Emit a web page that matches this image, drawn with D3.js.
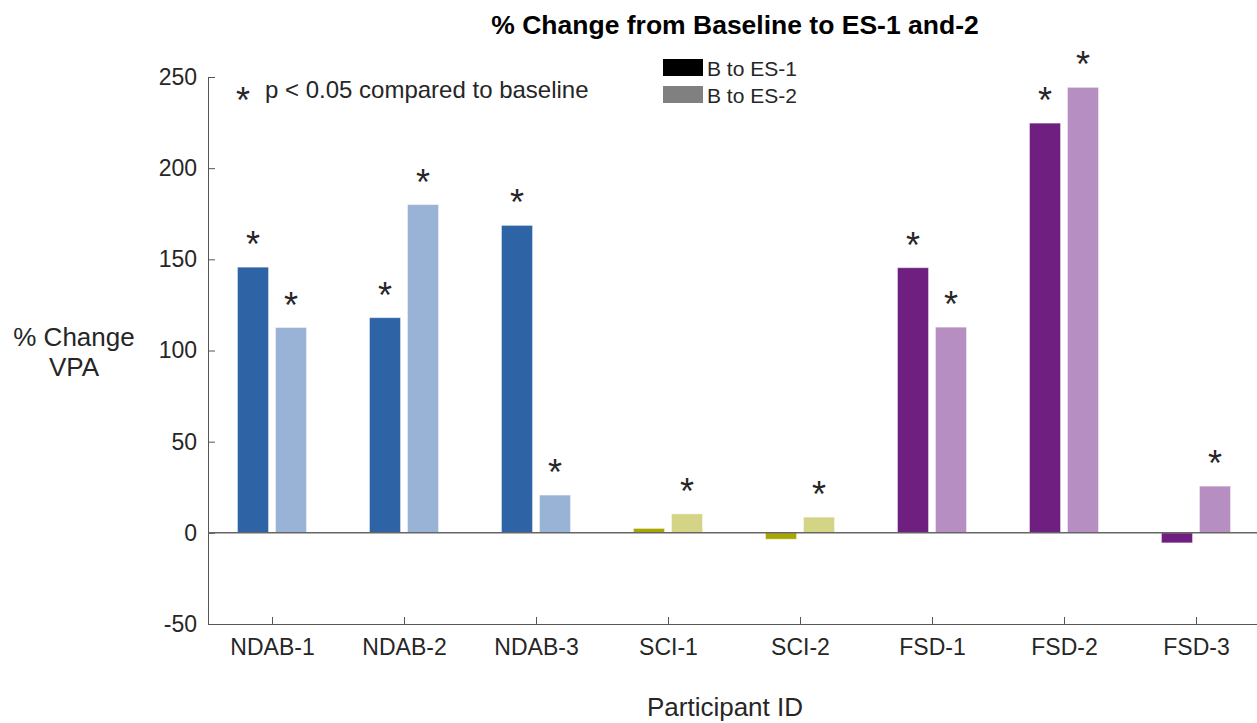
<!DOCTYPE html>
<html>
<head>
<meta charset="utf-8">
<script src="https://cdn.jsdelivr.net/npm/d3@7"></script>
<style>
  body { margin: 0; background: #fff; }
  svg text { font-family: "Liberation Sans", Arial, Helvetica, sans-serif; fill: #262626; }
</style>
</head>
<body>
<div id="chart"></div>
<script>
// Données
const participants = ["NDAB-1", "NDAB-2", "NDAB-3", "SCI-1", "SCI-2", "FSD-1", "FSD-2", "FSD-3"];
const es1 = [145.7, 118, 168.6, 2.4, -3.5, 145.4, 224.7, -5.5];
const es2 = [112.6, 180, 20.7, 10.4, 8.6, 112.8, 244.3, 25.6];
const sig1 = [true, true, true, false, false, true, true, false];
const sig2 = [true, true, true, true, true, true, true, true];
const darkColors = ["#2e63a5", "#2e63a5", "#2e63a5", "#a8a600", "#a8a600", "#6f1f80", "#6f1f80", "#6f1f80"];
const lightColors = ["#98b3d5", "#98b3d5", "#98b3d5", "#d4d486", "#d4d486", "#b78ec1", "#b78ec1", "#b78ec1"];
const yTicks = [-50, 0, 50, 100, 150, 200, 250];
const legendLabels = ["B to ES-1", "B to ES-2"];

(function() {
    const W = 1257, H = 723;
    const left = 208, bottom = 624, top = 77;

    const svg = d3.select("#chart").append("svg")
        .attr("width", W)
        .attr("height", H);

    // Échelles
    const x = d3.scaleLinear()
        .domain([0.5, participants.length + 0.5])
        .range([left - 2, left - 2 + 132 * participants.length]);

    const y = d3.scaleLinear()
        .domain([-50, 250])
        .range([bottom, top]);

    const barW = 31, off = 19;

    // Axe Y
    const yAxis = svg.append("g")
        .attr("transform", `translate(${left},0)`)
        .call(d3.axisRight(y).tickValues(yTicks).tickSize(7).tickFormat(d => String(d)));
    yAxis.select(".domain").attr("d", `M0.5,${bottom}V${top}`).attr("stroke", "#555");
    yAxis.selectAll(".tick line").attr("stroke", "#555");
    yAxis.selectAll(".tick text")
        .attr("x", -11)
        .attr("text-anchor", "end")
        .style("font-size", "23px");

    // Axe X
    const xAxis = svg.append("g")
        .attr("transform", `translate(0,${bottom})`)
        .call(d3.axisTop(x).tickValues(d3.range(1, participants.length + 1)).tickSize(7)
            .tickFormat(i => participants[i - 1]));
    xAxis.select(".domain").attr("d", `M${left},0.5H${W}`).attr("stroke", "#555");
    xAxis.selectAll(".tick line").attr("stroke", "#555");
    xAxis.selectAll(".tick text")
        .attr("y", 31)
        .style("font-size", "23px");

    // Barres
    const series = [
        { vals: es1, sig: sig1, colors: darkColors, dx: -off },
        { vals: es2, sig: sig2, colors: lightColors, dx: off }
    ];

    series.forEach(s => {
        svg.append("g").selectAll("rect")
            .data(s.vals)
            .enter().append("rect")
            .attr("x", (d, i) => x(i + 1) + s.dx - barW / 2)
            .attr("y", d => y(Math.max(0, d)))
            .attr("width", barW)
            .attr("height", d => Math.abs(y(d) - y(0)))
            .attr("fill", (d, i) => s.colors[i])
            .attr("stroke", "#fff")
            .attr("stroke-opacity", 0.4)
            .attr("stroke-width", 1);

        // Étoiles de significativité
        svg.append("g").selectAll("text")
            .data(s.vals.map((v, i) => ({ v, i })).filter(d => s.sig[d.i]))
            .enter().append("text")
            .attr("x", d => x(d.i + 1) + s.dx)
            .attr("y", d => y(Math.max(0, d.v)) - 10)
            .attr("text-anchor", "middle")
            .style("font-size", "36px")
            .text("*");
    });

    // Ligne zéro
    svg.append("line")
        .attr("x1", left).attr("x2", W)
        .attr("y1", y(0)).attr("y2", y(0))
        .attr("stroke", "#666")
        .attr("stroke-width", 1.5);

    // Note
    svg.append("text")
        .attr("x", 236).attr("y", 113)
        .style("font-size", "36px")
        .text("*");
    svg.append("text")
        .attr("x", 265).attr("y", 98)
        .style("font-size", "24px")
        .text("p < 0.05 compared to baseline");

    // Légende
    const legendColors = ["#000", "#808080"];
    const legend = svg.selectAll(".legend")
        .data(legendLabels)
        .enter().append("g")
        .attr("class", "legend")
        .attr("transform", (d, i) => `translate(663,${59 + i * 27})`);
    legend.append("rect")
        .attr("width", 40)
        .attr("height", 17)
        .attr("fill", (d, i) => legendColors[i]);
    legend.append("text")
        .attr("x", 44)
        .attr("y", 17)
        .style("font-size", "21px")
        .text(d => d);

    // Titres
    svg.append("text")
        .attr("x", 735).attr("y", 34)
        .attr("text-anchor", "middle")
        .style("font-size", "26.5px")
        .style("font-weight", "bold")
        .style("fill", "#000")
        .text("% Change from Baseline to ES-1 and-2");

    svg.append("text")
        .attr("x", 74).attr("y", 346)
        .attr("text-anchor", "middle")
        .style("font-size", "26px")
        .text("% Change");
    svg.append("text")
        .attr("x", 74).attr("y", 376)
        .attr("text-anchor", "middle")
        .style("font-size", "26px")
        .text("VPA");

    svg.append("text")
        .attr("x", 725).attr("y", 716)
        .attr("text-anchor", "middle")
        .style("font-size", "26px")
        .text("Participant ID");
})();
</script>
</body>
</html>
